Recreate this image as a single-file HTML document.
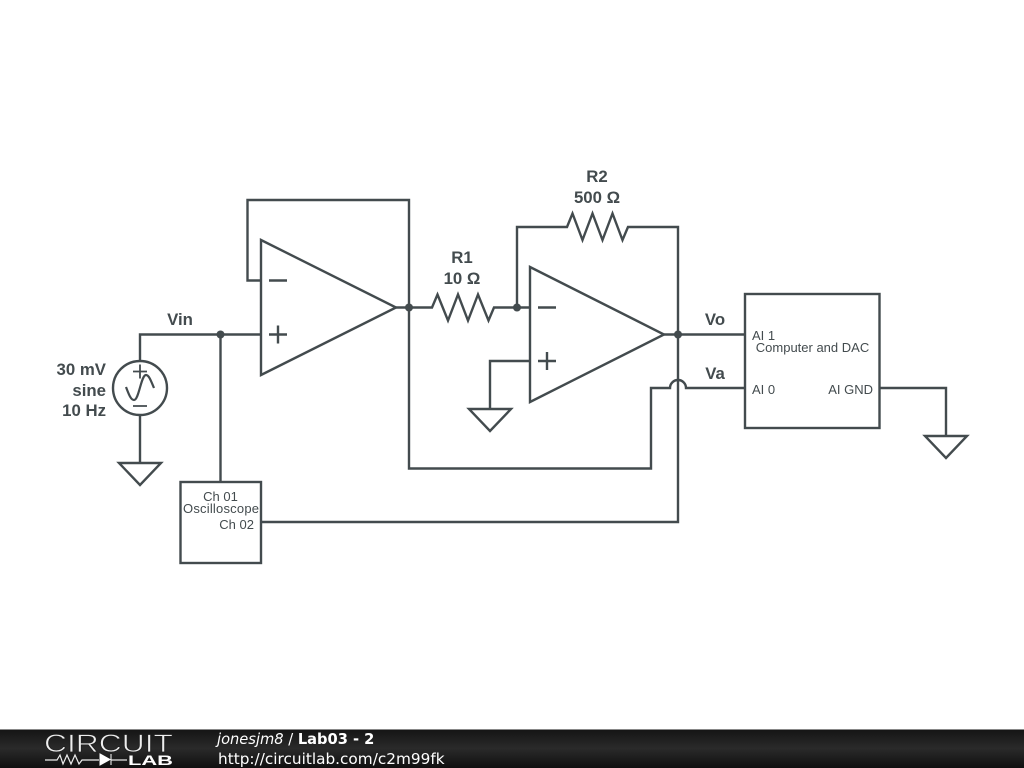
<!DOCTYPE html>
<html><head><meta charset="utf-8"><style>
html,body{margin:0;padding:0;background:#fff;width:1024px;height:768px;overflow:hidden}
svg{display:block}
.w{fill:none;stroke:#434b4e;stroke-width:2.4;stroke-linejoin:miter}
.t{stroke-width:1.8}
.b{font:bold 16.8px "Liberation Sans",sans-serif;fill:#434b4e}
.n{font:13px "Liberation Sans",sans-serif;fill:#434b4e}
</style></head><body>
<svg width="1024" height="768" viewBox="0 0 1024 768">
<defs><linearGradient id="g" x1="0" y1="0" x2="0" y2="1"><stop offset="0" stop-color="#141414"/><stop offset=".5" stop-color="#2a2a2a"/><stop offset="1" stop-color="#101010"/></linearGradient></defs>
<rect width="1024" height="768" fill="#fff"/>
<g class="w">
<path d="M140 361V334.500H261"/>
<path d="M220.500 334.500V482"/>
<path d="M140 415V463"/>
<path d="M119 463H161L140 485Z"/>
<circle cx="140" cy="388" r="27"/>
<path class="t" d="M133 371.500H147M140 364.500V378.500M133 406H147"/>
<path stroke-width="2.200" d="M126 387C129 395 131 400 134 400C139 400 141 375 146 375C149 375 151 381 154 388"/>
<path d="M261 240L396 307.500L261 375Z"/>
<path d="M261 280.500H247.500V200H409V468.500H651V388H670A8 8 0 0 1 686 388H745"/>
<path d="M396 307.500H432L437.500 294.500L448 320.500L458 294.500L468 320.500L478 294.500L488.500 320.500L494 307.500H530"/>
<path d="M269 280.500H287M269 334.500H287M278 325.500V343.500"/>
<path d="M517 307.500V227H567L572.500 213.500L582.500 240L592.500 213.500L602.500 240L612.500 213.500L622.500 240L628 227H678V522H261"/>
<path d="M530 267L664 334.500L530 402Z"/>
<path d="M538 307.500H556M538 361H556M547 352V370"/>
<path d="M530 361H490V409"/>
<path d="M469 409H511L490 431Z"/>
<path d="M664 334.500H745"/>
<rect x="180.500" y="482" width="80.500" height="81"/>
<rect x="745" y="294" width="134.500" height="134"/>
<path d="M880 388H946V436"/>
<path d="M925 436H967L946 458Z"/>
</g>
<g fill="#434b4e">
<circle cx="220.500" cy="334.500" r="4"/>
<circle cx="409" cy="307.500" r="4"/>
<circle cx="517" cy="307.500" r="4"/>
<circle cx="678" cy="334.500" r="4"/>
</g>
<g class="b">
<text x="180" y="325" text-anchor="middle">Vin</text>
<text x="106" y="375" text-anchor="end">30 mV</text>
<text x="106" y="396" text-anchor="end">sine</text>
<text x="106" y="416" text-anchor="end">10 Hz</text>
<text x="462" y="263" text-anchor="middle">R1</text>
<text x="462" y="284" text-anchor="middle">10 Ω</text>
<text x="597" y="182" text-anchor="middle">R2</text>
<text x="597" y="203" text-anchor="middle">500 Ω</text>
<text x="715" y="325" text-anchor="middle">Vo</text>
<text x="715" y="379" text-anchor="middle">Va</text>
</g>
<g class="n">
<text x="220.500" y="501" text-anchor="middle">Ch 01</text>
<text x="183" y="513" textLength="76">Oscilloscope</text>
<text x="254" y="529" text-anchor="end">Ch 02</text>
<text x="752" y="340">AI 1</text>
<text x="812.500" y="352" text-anchor="middle">Computer and DAC</text>
<text x="752" y="394">AI 0</text>
<text x="873" y="394" text-anchor="end">AI GND</text>
</g>
<rect y="729" width="1024" height="39" fill="url(#g)"/>
<rect y="729" width="1024" height="1" fill="#888"/>
<text x="44" y="752" font-family="Liberation Sans,sans-serif" font-size="25" fill="#eee" stroke="#202020" stroke-width=".7" textLength="129" lengthAdjust="spacingAndGlyphs">CIRCUIT</text>
<path d="M45 760H57L60 755L63 764L67 755L71 764L75 755L79 764L82 760H99" fill="none" stroke="#eee" stroke-width="1.200"/>
<path d="M100 754L110 759.500L100 765Z M111 754V765" fill="#fff" stroke="#fff" stroke-width="1"/>
<path d="M111 760H127" stroke="#eee" stroke-width="1.200"/>
<text x="128" y="765" font-family="Liberation Sans,sans-serif" font-weight="bold" font-size="14" fill="#fff" textLength="45" lengthAdjust="spacingAndGlyphs">LAB</text>
<text x="217" y="744" font-family="DejaVu Sans,sans-serif" font-size="14.650" fill="#fff"><tspan font-style="italic">jonesjm8</tspan> / <tspan font-weight="bold">Lab03 - 2</tspan></text>
<text x="218" y="764" font-family="DejaVu Sans,sans-serif" font-size="15.300" fill="#fff">http://circuitlab.com/c2m99fk</text>
</svg>
</body></html>
